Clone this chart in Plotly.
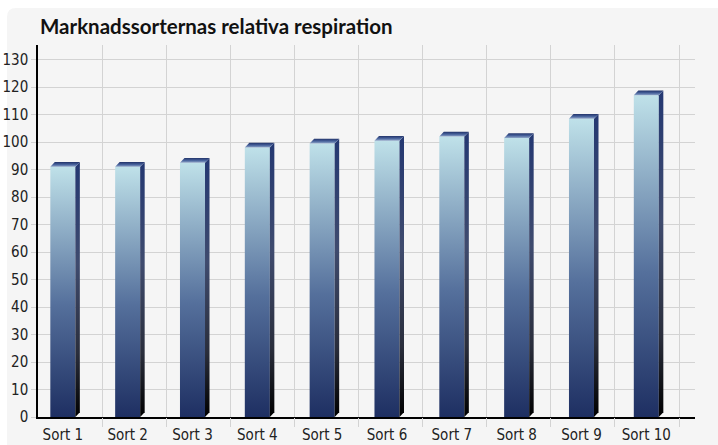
import plotly.graph_objects as go

categories = ["Sort 1", "Sort 2", "Sort 3", "Sort 4", "Sort 5",
              "Sort 6", "Sort 7", "Sort 8", "Sort 9", "Sort 10"]
values = [91, 91, 92.5, 98, 99.5, 100.5, 102, 101.5, 108.5, 117]
y_ticks = list(range(0, 131, 10))
title_text = "Marknadssorternas relativa respiration"

W, H = 718, 445
ML, MR, MT, MB = 38, 23, 45, 28
PW, PH = W - ML - MR, H - MT - MB
Y_MAX = 135.3
X_RANGE = [-0.383, 9.751]
G_RANGE = [0, PW / 64.1]

half_w = 0.193          # half front width in category units
dx = 0.0695             # depth (x, category units)
dy = 1.71               # depth (y, value units)

front_scale = [[0, "#1e2f62"], [0.45, "#55709c"], [1, "#bfe1e9"]]
side_scale = [[0, "#000000"], [0.25, "#2a2e3c"], [0.6, "#3f4b6e"], [1, "#243872"]]
top_scale = [[0, "#8ea6c8"], [0.5, "#46609a"], [1, "#22346a"]]

FONT_T = "DejaVu Sans Condensed, Roboto, sans-serif"

fig = go.Figure()

for i, v in enumerate(values):
    xl, xr = i - half_w, i + half_w
    # front face
    fig.add_trace(go.Scatter(
        x=[xl, xr, xr, xl, xl], y=[0, 0, v, v, 0], mode="lines",
        line=dict(width=0), fill="toself", hoverinfo="skip", showlegend=False,
        fillgradient=dict(type="vertical", colorscale=front_scale)))
    # side face
    fig.add_trace(go.Scatter(
        x=[xr, xr + dx, xr + dx, xr, xr], y=[0, dy, v + dy, v, 0], mode="lines",
        line=dict(width=0), fill="toself", hoverinfo="skip", showlegend=False,
        fillgradient=dict(type="vertical", colorscale=side_scale)))
    # top face
    fig.add_trace(go.Scatter(
        x=[xl, xr, xr + dx, xl + dx, xl], y=[v, v, v + dy, v + dy, v], mode="lines",
        line=dict(width=0), fill="toself", hoverinfo="skip", showlegend=False,
        fillgradient=dict(type="vertical", colorscale=top_scale)))

# dummy trace for gridline axis
fig.add_trace(go.Scatter(x=[0], y=[0], xaxis="x2", mode="markers",
                         marker=dict(opacity=0), hoverinfo="skip", showlegend=False))

# rounded background panel
px0, py0 = 7, 8
x0 = (px0 - ML) / PW
y1 = (H - MB - py0) / PH
rx, ry = 9 / PW, 9 / PH
xe, ye = (W + 20 - ML) / PW, -(MB + 20) / PH
path = (f"M {x0},{ye} L {x0},{y1 - ry} Q {x0},{y1} {x0 + rx},{y1} "
        f"L {xe},{y1} L {xe},{ye} Z")

fig.update_layout(
    width=W, height=H,
    margin=dict(l=ML, r=MR, t=MT, b=MB, autoexpand=False),
    paper_bgcolor="white",
    plot_bgcolor="rgba(0,0,0,0)",
    title=dict(text=title_text, x=40 / W, xanchor="left",
               y=1 - 27 / H, yanchor="middle",
               font=dict(family="Lato, sans-serif", size=20.5, color="#111", weight=700)),
    shapes=[
        dict(type="path", path=path, xref="paper", yref="paper",
             fillcolor="#f5f5f5", line=dict(width=0), layer="below"),
        dict(type="line", xref="paper", yref="y", x0=0, x1=0,
             ysizemode="pixel", yanchor=0, y0=0, y1=-10,
             line=dict(color="black", width=1.5), layer="above"),
    ],
    xaxis=dict(range=X_RANGE, tickvals=list(range(len(categories))),
               ticktext=categories, showgrid=False, zeroline=False,
               showline=True, linecolor="black", linewidth=1.5, ticks="",
               tickfont=dict(family=FONT_T, size=15, color="#222"),
               ticklabelstandoff=3, automargin=False),
    xaxis2=dict(range=G_RANGE, overlaying="x", tickvals=list(range(1, 11)),
                showgrid=True, gridcolor="#d3d3d3", gridwidth=1, zeroline=False,
                showticklabels=False, ticks="outside", ticklen=9,
                tickcolor="#d3d3d3", tickwidth=1, side="bottom", showline=False,
                automargin=False),
    yaxis=dict(range=[0, Y_MAX], tickvals=y_ticks, showgrid=True,
               gridcolor="#d3d3d3", gridwidth=1, zeroline=False,
               showline=True, linecolor="black", linewidth=1.5,
               ticks="outside", ticklen=5, tickcolor="#d3d3d3",
               tickfont=dict(family=FONT_T, size=15, color="#222"),
               ticklabelstandoff=0, automargin=False),
)

fig.write_html("out.html")
